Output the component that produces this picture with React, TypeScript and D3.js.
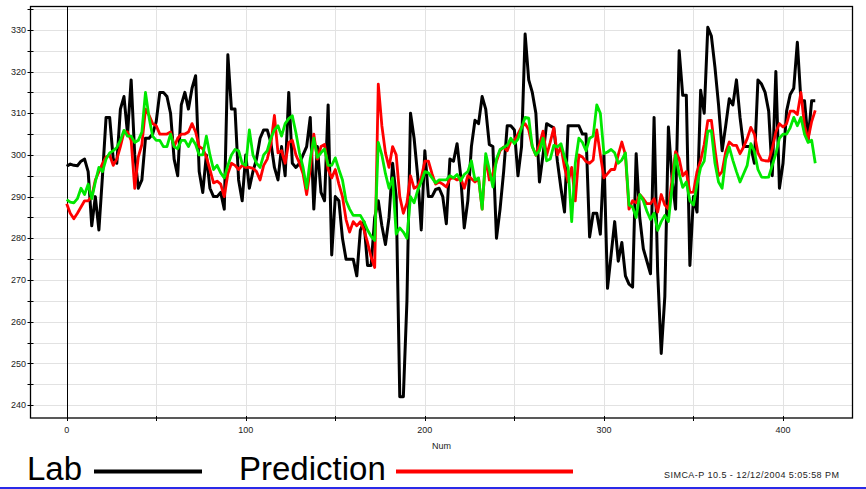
import { useEffect } from "react"
import * as d3 from "d3"

// one observation every 2 "Num" units, 0 .. 418
const STEP = 2

const labValues = [
  297.3, 297.8, 297.5, 297.4, 298.5, 299, 296, 283, 290, 282,
  295, 309, 309, 299, 298, 311, 314, 305, 318, 300,
  292, 294, 304, 304, 305, 308, 315, 315, 314, 310,
  299, 295, 312, 315, 311, 316, 319, 296, 291, 300,
  292, 290, 290, 291, 287, 324, 311, 311, 294, 289,
  300, 292, 296, 299, 304, 306, 306, 303, 297, 294,
  302, 295, 315, 298, 297, 298, 300, 302, 309, 287,
  302, 291, 289, 312, 276, 290, 289, 280, 275, 275,
  275, 271, 282, 284, 273.5, 273.5, 285, 289, 283, 278.5,
  285, 298, 290, 242, 242, 265, 310, 304, 295, 282,
  301, 290, 290, 291.7, 292, 290, 283.5, 299, 298.5, 302.7,
  295, 282.5, 289, 302, 308.3, 307.5, 314, 311, 302.5, 302,
  280, 287, 296, 307, 307, 306, 295, 302, 329, 318,
  315, 310, 293.5, 300, 307.5, 307, 306.5, 298.5, 292, 286.3,
  307, 307, 307, 307, 305, 305, 280.3, 286, 286, 281,
  300, 268, 276, 284, 274.5, 279, 271, 269, 268.3, 300.3,
  285, 277.5, 274.5, 271.5, 309, 272, 252.4, 266, 306.7, 294.5,
  287, 325, 314.3, 314.3, 273.5, 290, 286.3, 315.5, 310, 330.6,
  328.5, 321, 312, 301, 307, 313.5, 312, 318, 309, 302,
  302, 302, 298, 318, 317, 315, 310.5, 295, 320, 292,
  298, 310.5, 314.5, 316, 327, 313, 313, 303.5, 313, 313,
]

const predictionValues = [
  288.3, 286, 284.7, 286, 287.5, 289, 289, 290, 294, 296,
  297.9, 299.5, 300, 297.5, 299, 302, 305.5, 305.5, 303.5, 292,
  299.5, 302.5, 311, 309.5, 307.5, 307, 305, 305, 305, 305.5,
  302, 304, 305, 305, 305.5, 307.5, 305.5, 302, 301.5, 299.5,
  296.5, 293.3, 293.7, 293, 290, 295.5, 298, 297.5, 296.5, 297.5,
  297, 297, 296.8, 296, 294, 297.5, 299, 302.5, 309.5, 300.5,
  301, 298, 303, 303.5, 300, 298, 295.5, 290.5, 296.5, 305,
  299, 302, 302.5, 296.5, 294.5, 296.5, 293, 290, 284.5, 281.5,
  284, 283, 284, 282, 279, 275.5, 273, 317, 307, 300.5,
  297, 302, 300, 290, 286, 288.5, 295, 292, 292.5, 294.5,
  298.5, 298.5, 295.5, 293, 293.5, 293, 292.3, 294.3, 294.5, 294,
  294.5, 292, 295, 294.3, 293.5, 294.3, 287, 299.5, 294, 295.5,
  298.5, 301, 301.9, 301, 303.3, 303.5, 305, 306.7, 307.5, 306,
  302, 299.9, 302.5, 305.7, 299.9, 303, 306.5, 300, 302, 297,
  293.5, 297, 289, 300, 299.5, 298.4, 298, 298.8, 306, 300,
  294.5, 295.5, 296.5, 296.5, 300, 303.1, 300, 287, 289, 288.5,
  290.5, 289.5, 288.3, 288.3, 289.5, 286.3, 290.5, 288, 287, 294,
  300.8, 299.1, 295, 296, 291, 291.1, 296, 298.7, 302.5, 308.2,
  308.3, 301.3, 295, 296, 300.7, 303.1, 302.3, 302.3, 300.3, 301.9,
  303.9, 306.6, 305, 300.5, 298.8, 298.6, 298.5, 301.5, 305.5, 307.5,
  306.7, 307.5, 310.5, 310.5, 309.7, 315, 307, 303.8, 308, 310.7,
]

const predictionCvValues = [
  289.3, 288.7, 288.5, 289.5, 292, 290.5, 293, 289.5, 293.5, 297,
  296, 299, 300.5, 301, 301.8, 303.5, 305.9, 304.5, 304.5, 303,
  303.5, 305.5, 315, 309, 304.5, 303.5, 303.5, 302, 302, 305,
  302, 301.5, 303.5, 303.5, 302, 303.9, 302.5, 300, 300, 304.5,
  300, 296.5, 297.5, 295.7, 294.5, 297.5, 300, 301.3, 301, 298,
  297.5, 306, 300, 298, 297, 300, 301, 304, 306, 307,
  304.5, 307.5, 308.7, 309.4, 305.3, 300.5, 297, 292, 299, 304,
  299.4, 300.5, 301.4, 297.5, 297.5, 299.3, 296.5, 294, 289, 287,
  285.5, 285.5, 285.5, 284, 282, 280.5, 279.5, 303, 300, 295.5,
  292, 294.5, 281, 282.5, 281.5, 280, 290, 288.5, 291.5, 293.5,
  296, 295.7, 294.5, 293.3, 294, 294, 294, 295, 294.5, 295.3,
  293.8, 295.3, 296, 298.6, 294, 294.5, 287, 300.3, 296.5, 292.3,
  299, 301.3, 301.8, 302.3, 304, 302.7, 303.8, 306.5, 309, 308.8,
  302, 300, 301, 304, 298.6, 299, 302.3, 301.9, 302.7, 299.5,
  297, 284, 298, 304, 303, 301, 304, 304.5, 312, 310,
  300.3, 300.7, 301.3, 300.5, 298, 298.8, 300.5, 288, 287.5, 285,
  290.5, 289, 286.5, 284.5, 286, 281.9, 284, 285.5, 284, 292,
  300, 295.5, 292.2, 293.5, 289, 288, 293, 297, 298.5, 305.7,
  305.8, 298, 293.5, 292, 299, 301.9, 298.7, 296, 293.5, 295.5,
  297.5, 302.7, 300.9, 296.5, 294.7, 294.6, 294.7, 297.5, 300.3, 304,
  305, 305, 306.5, 309, 307, 309, 305, 303, 303.5, 298,
]

const xTickLabels = [0, 100, 200, 300, 400]
const xMinorTicks = [0, 50, 100, 150, 200, 250, 300, 350, 400]
const yTickLabels = [240, 250, 260, 270, 280, 290, 300, 310, 320, 330]
const yMinorTicks = d3.range(240, 336, 5)

const FONT = "'Liberation Sans', Arial, sans-serif"

export default function App() {
  useEffect(() => {
    document.body.style.margin = "0"
  }, [])

  const width = 866
  const height = 489
  const plot = { left: 30.5, right: 852.5, top: 6.5, bottom: 418 }

  const x = d3.scaleLinear().domain([-20.2, 438.8]).range([plot.left, plot.right])
  const y = d3.scaleLinear().domain([236.9, 335.6]).range([plot.bottom, plot.top])

  const line = d3
    .line<number>()
    .x((_, i) => x(i * STEP))
    .y((d) => y(d))

  const series = [
    { values: labValues, color: "#000000", width: 3 },
    { values: predictionValues, color: "#ff0000", width: 2.8 },
    { values: predictionCvValues, color: "#00e800", width: 2.8 },
  ]

  const px = (v: number) => Math.round(v) + 0.5

  return (
    <svg width={width} height={height} style={{ display: "block", background: "#fff" }} fontFamily={FONT}>
      {/* grid */}
      {yMinorTicks.map((t) => (
        <line key={`gy${t}`} x1={plot.left} x2={plot.right} y1={px(y(t))} y2={px(y(t))} stroke="#e2e2e2" />
      ))}
      {xMinorTicks
        .filter((t) => t !== 0)
        .map((t) => (
          <line key={`gx${t}`} x1={px(x(t))} x2={px(x(t))} y1={plot.top} y2={plot.bottom} stroke="#e2e2e2" />
        ))}
      {/* zero line */}
      <line x1={px(x(0))} x2={px(x(0))} y1={plot.top} y2={plot.bottom} stroke="#000" />

      {/* series */}
      {series.map((s, i) => (
        <path key={i} d={line(s.values) || ""} fill="none" stroke={s.color} strokeWidth={s.width} strokeLinejoin="round" />
      ))}

      {/* frame */}
      <rect x={plot.left} y={plot.top} width={plot.right - plot.left} height={plot.bottom - plot.top} fill="none" stroke="#000" strokeWidth={1.3} />

      {/* y ticks */}
      {yMinorTicks.map((t) => (
        <line key={`ty${t}`} x1={plot.left - 3} x2={plot.left + 3} y1={px(y(t))} y2={px(y(t))} stroke="#000" />
      ))}
      {yTickLabels.map((t) => (
        <text key={`ly${t}`} x={26} y={y(t)} dy="0.35em" textAnchor="end" fontSize={9} fill="#222">
          {t}
        </text>
      ))}

      {/* x ticks */}
      {xMinorTicks.map((t) => (
        <line key={`tx${t}`} x1={px(x(t))} x2={px(x(t))} y1={plot.bottom - 2} y2={plot.bottom + 3} stroke="#000" />
      ))}
      {xTickLabels.map((t) => (
        <text key={`lx${t}`} x={x(t)} y={432.5} textAnchor="middle" fontSize={9} fill="#222">
          {t}
        </text>
      ))}
      <text x={(plot.left + plot.right) / 2} y={449} textAnchor="middle" fontSize={9} fill="#222">
        Num
      </text>

      {/* legend */}
      <text x={27} y={480} fontSize={33} fill="#000">
        Lab
      </text>
      <line x1={94} x2={202} y1={471.5} y2={471.5} stroke="#000" strokeWidth={4} />
      <text x={239} y={480} fontSize={33} fill="#000">
        Prediction
      </text>
      <line x1={396} x2={573} y1={471.5} y2={471.5} stroke="#ff0000" strokeWidth={4} />

      <text x={664} y={478} fontSize={9} fill="#222" textLength={175} lengthAdjust="spacing">
        SIMCA-P 10.5 - 12/12/2004 5:05:58 PM
      </text>

      <rect x={0} y={487} width={width} height={2} fill="#2a2ae8" />
    </svg>
  )
}
